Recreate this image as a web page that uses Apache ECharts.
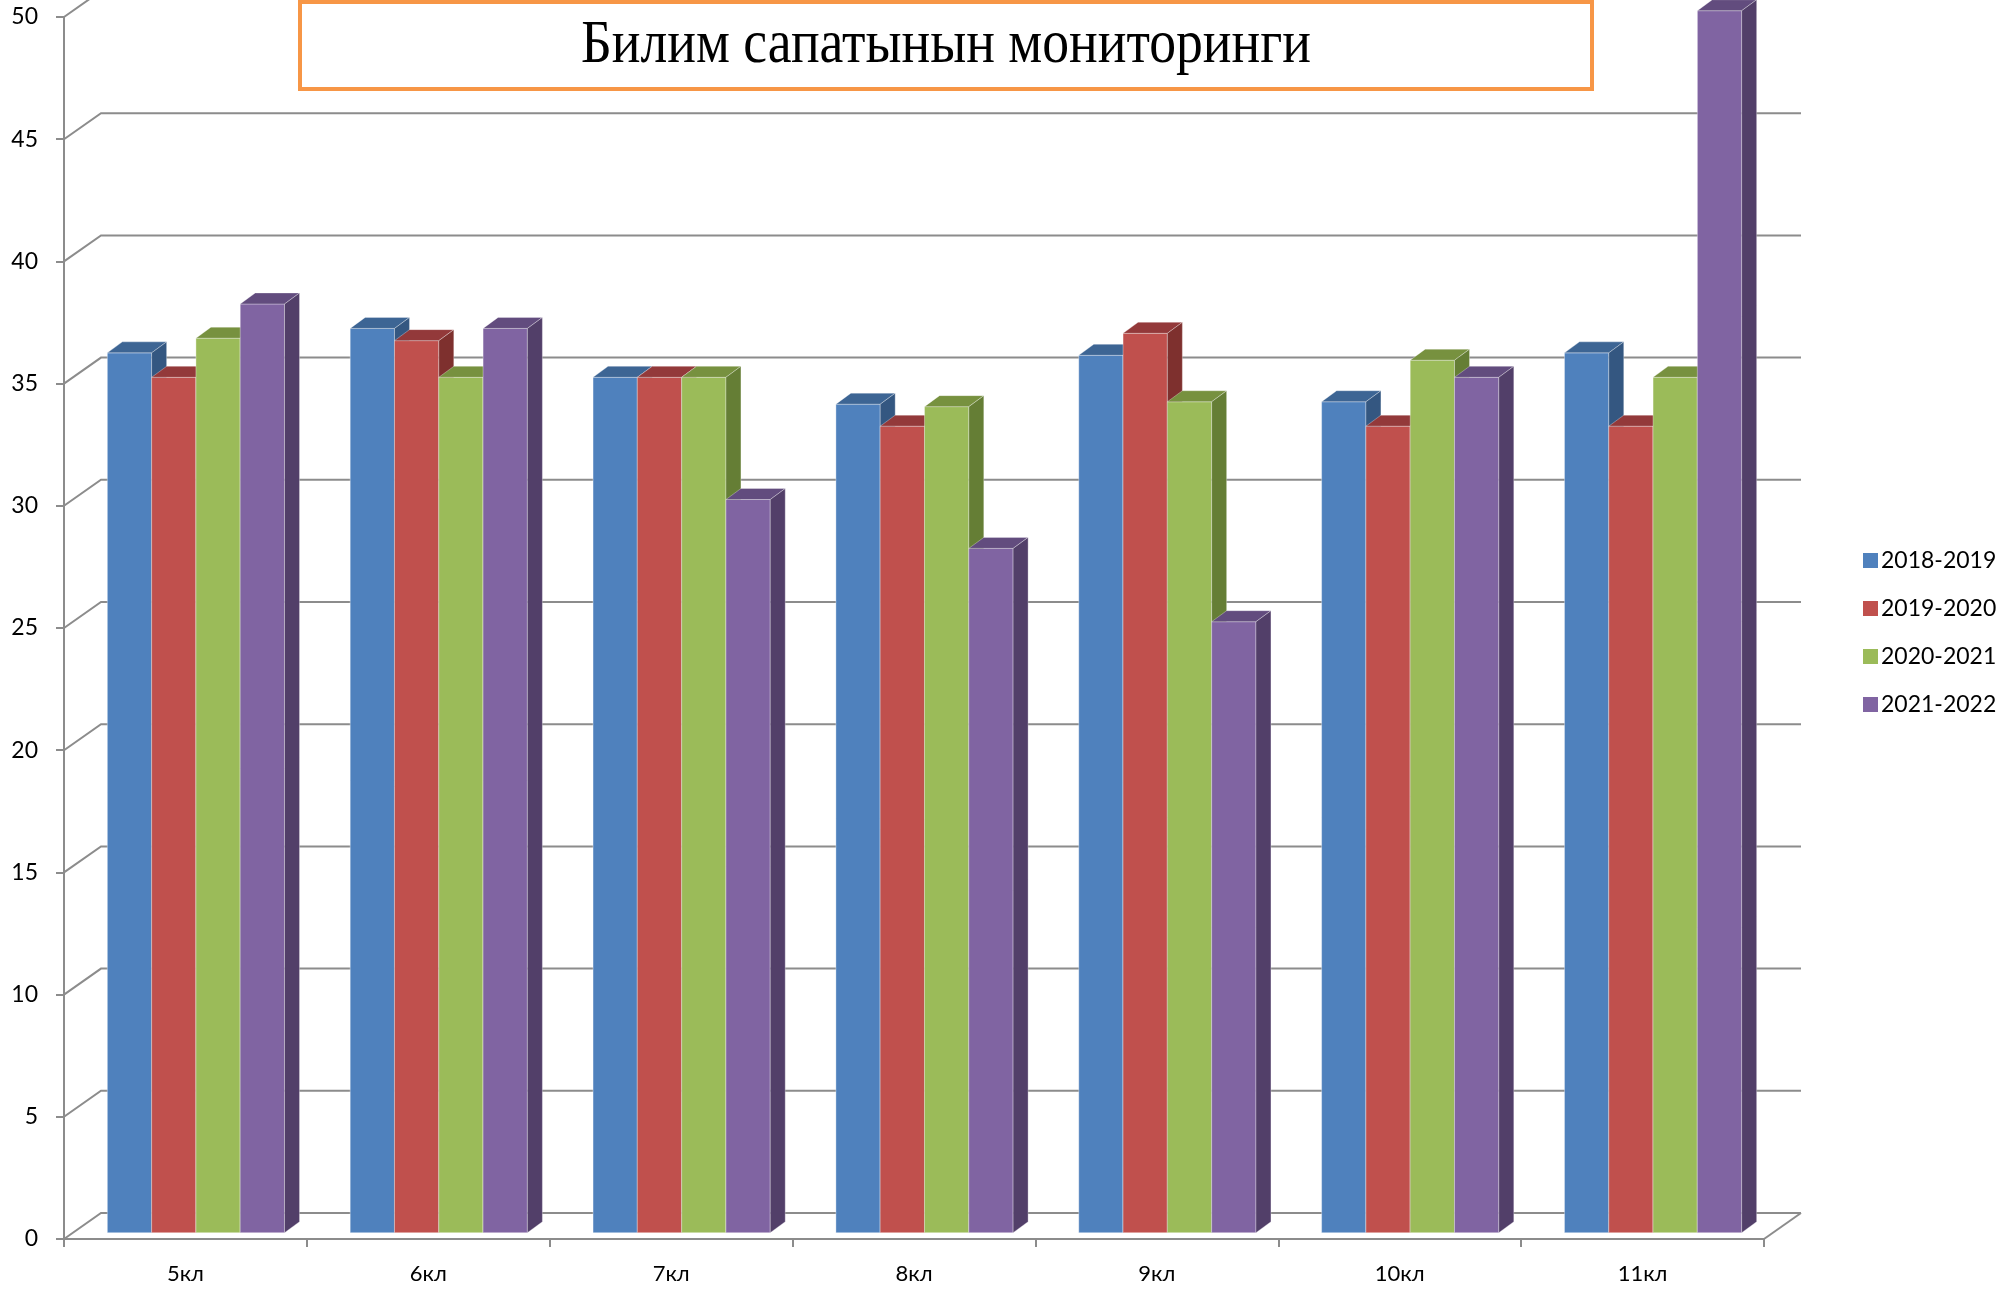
<!DOCTYPE html>
<html>
<head>
<meta charset="utf-8">
<script src="https://cdn.jsdelivr.net/npm/echarts@6/dist/echarts.min.js"></script>
<style>
html,body{margin:0;padding:0;background:#fff;}
#chart{width:2007px;height:1289px;}
</style>
</head>
<body>
<div id="chart"></div>
<script>
// ---- data ----
var categories = ['5кл', '6кл', '7кл', '8кл', '9кл', '10кл', '11кл'];
var seriesNames = ['2018-2019', '2019-2020', '2020-2021', '2021-2022'];
var s2018 = [36, 37, 35, 33.9, 35.9, 34, 36];
var s2019 = [35, 36.5, 35, 33, 36.8, 33, 33];
var s2020 = [36.6, 35, 35, 33.8, 34, 35.7, 35];
var s2021 = [38, 37, 30, 28, 25, 35, 50];
var yTicks = [0, 5, 10, 15, 20, 25, 30, 35, 40, 45, 50];
var titleText = 'Билим сапатынын мониторинги';

// ---- styles ----
var faceColors = [
  {front: '#4F81BD', top: '#3D6594', side: '#345781'},
  {front: '#C0504D', top: '#93393A', side: '#7E302E'},
  {front: '#9BBB59', top: '#77913F', side: '#657E35'},
  {front: '#8064A2', top: '#624C7E', side: '#523F69'}
];
var WALL_DX = 37, WALL_DY = -26;     // back wall offset (px)
var BAR_OFF_X = 10.5, BAR_OFF_Y = -6.3; // bar position depth offset
var BAR_DX = 15, BAR_DY = -11;       // bar depth
var BAR_FRAC = 0.1824;               // bar width as fraction of band
var GRID_COLOR = '#8C8C8C';
var FONT = 'Lato, "Open Sans", sans-serif';

var allData = [s2018, s2019, s2020, s2021];

function barRender(si) {
  return function (params, api) {
    var c = api.value(0), v = api.value(1);
    var band = api.size([1, 0])[0];
    var w = band * BAR_FRAC;
    var base = api.coord([c, 0]);
    var top = api.coord([c, v]);
    var x = base[0] - 2 * w + si * w + BAR_OFF_X;
    var yb = base[1] + BAR_OFF_Y;
    var yt = top[1] + BAR_OFF_Y;
    var col = faceColors[si];
    return {
      type: 'group',
      children: [
        {type: 'rect', shape: {x: x, y: yt, width: w, height: yb - yt},
          style: {fill: col.front, stroke: 'rgba(255,255,255,0.35)', lineWidth: 1}},
        {type: 'polygon', shape: {points: [[x, yt], [x + w, yt], [x + w + BAR_DX, yt + BAR_DY], [x + BAR_DX, yt + BAR_DY]]},
          style: {fill: col.top, stroke: 'rgba(255,255,255,0.3)', lineWidth: 1}},
        {type: 'polygon', shape: {points: [[x + w, yt], [x + w + BAR_DX, yt + BAR_DY], [x + w + BAR_DX, yb + BAR_DY], [x + w, yb]]},
          style: {fill: col.side, stroke: 'rgba(255,255,255,0.3)', lineWidth: 1}}
      ]
    };
  };
}

function frameRender(params, api) {
  var cs = params.coordSys;
  var v = api.value(1);
  var y = api.coord([0, v])[1];
  var x0 = cs.x, x1 = cs.x + cs.width;
  var children = [{
    type: 'polyline',
    shape: {points: [[x0, y], [x0 + WALL_DX, y + WALL_DY], [x1 + WALL_DX, y + WALL_DY]]},
    style: {stroke: GRID_COLOR, lineWidth: 2, fill: null}
  }];
  if (v === 0) {
    children.push({
      type: 'line',
      shape: {x1: x1, y1: y, x2: x1 + WALL_DX, y2: y + WALL_DY},
      style: {stroke: GRID_COLOR, lineWidth: 2}
    });
  }
  return {type: 'group', children: children};
}

var series = [{
  name: 'frame',
  type: 'custom',
  renderItem: frameRender,
  data: yTicks.map(function (t) { return [0, t]; }),
  z: 1,
  silent: true
}];
seriesNames.forEach(function (n, i) {
  series.push({
    name: n,
    type: 'custom',
    renderItem: barRender(i),
    itemStyle: {color: faceColors[i].front},
    data: allData[i].map(function (v, c) { return [c, v]; }),
    z: 2 + i
  });
});

var chart = echarts.init(document.getElementById('chart'), null, {renderer: 'canvas'});
chart.setOption({
  animation: false,
  backgroundColor: '#ffffff',
  grid: {left: 64, right: 243, top: 17, bottom: 50, containLabel: false},
  xAxis: {
    type: 'category',
    data: categories,
    axisLine: {show: true, lineStyle: {color: GRID_COLOR, width: 2}},
    axisTick: {show: true, length: 8, lineStyle: {color: GRID_COLOR, width: 2}},
    axisLabel: {color: '#000', fontSize: 22, fontFamily: FONT, margin: 24},
    splitLine: {show: false}
  },
  yAxis: {
    type: 'value',
    min: 0, max: 50, interval: 5,
    axisLine: {show: true, lineStyle: {color: GRID_COLOR, width: 2}},
    axisTick: {show: true, length: 8, lineStyle: {color: GRID_COLOR, width: 2}},
    axisLabel: {color: '#000', fontSize: 23, fontFamily: FONT, margin: 26},
    splitLine: {show: false}
  },
  legend: {
    data: seriesNames,
    orient: 'vertical',
    left: 1858,
    top: 544,
    icon: 'rect',
    itemWidth: 15,
    itemHeight: 15,
    itemGap: 25,
    textStyle: {color: '#000', fontSize: 23, fontFamily: FONT, padding: [0, 0, 0, -2]}
  },
  graphic: [
    {type: 'rect', z: 100, shape: {x: 300, y: 2, width: 1292, height: 87},
      style: {fill: '#ffffff', stroke: '#F79646', lineWidth: 4}},
    {type: 'text', z: 101, x: 946, y: 46, scaleX: 0.865, scaleY: 1,
      style: {text: titleText, font: '62px "Liberation Serif", "Times New Roman", serif',
        fill: '#000', align: 'center', verticalAlign: 'middle'}}
  ],
  series: series
});
</script>
</body>
</html>
